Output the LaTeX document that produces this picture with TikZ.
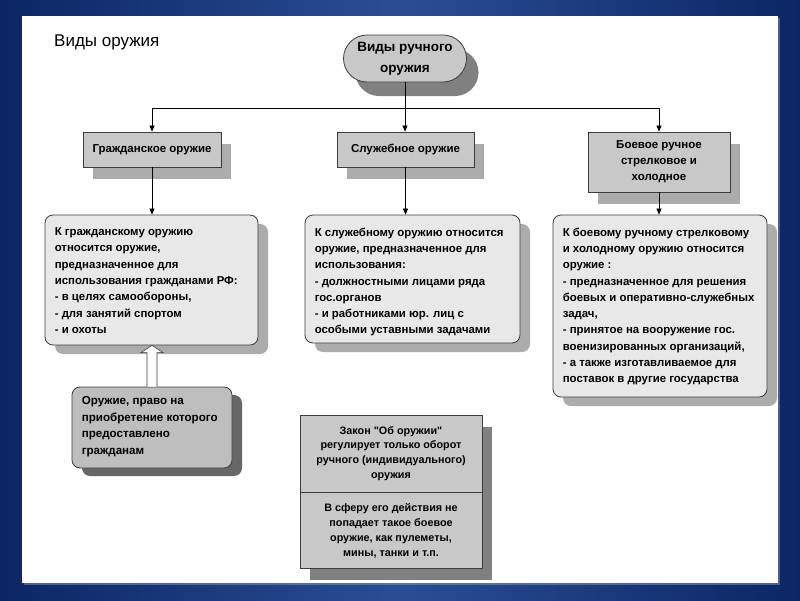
\documentclass[tikz,border=0pt]{standalone}
\usepackage{fontspec}
\setmainfont{Liberation Sans}
\newfontfamily\qfont{Liberation Sans}[Ligatures=TeXOff]
\usetikzlibrary{shadows,arrows.meta,calc,shapes.misc}
\definecolor{bgdark}{RGB}{12,38,100}
\definecolor{bglight}{RGB}{42,78,148}
\definecolor{boxgray}{RGB}{200,200,200}
\definecolor{lightbox}{RGB}{232,232,232}
\definecolor{midbox}{RGB}{190,190,190}
\definecolor{shlight}{RGB}{172,172,172}
\definecolor{shdark}{RGB}{128,128,128}
\definecolor{edge}{RGB}{60,60,60}
\newcommand{\sq}{{\qfont\bfseries"}}
\tikzset{
  topbox/.style={draw=edge, line width=0.8pt, fill=boxgray, inner sep=2pt,
    font=\fontsize{11.5}{16}\selectfont\bfseries, align=center,
    drop shadow={shadow xshift=10pt, shadow yshift=-12pt, fill=shlight, opacity=1}},
  detbox/.style={draw=edge, line width=0.8pt, fill=lightbox, rounded corners=8pt,
    drop shadow={shadow xshift=10pt, shadow yshift=-9pt, fill=shlight, opacity=1}},
  dettext/.style={inner sep=0pt, align=left, anchor=north west,
    font=\fontsize{11.4}{16.3}\selectfont\bfseries},
  arr/.style={draw=black, line width=0.6pt, -{Triangle[length=6pt,width=5pt]}},
  plain/.style={draw=black, line width=0.6pt},
}
\begin{document}
\begin{tikzpicture}[x=1pt,y=-1pt]
\useasboundingbox (0,0) rectangle (800,600);
% background
\shade[left color=bgdark, right color=bgdark, middle color=bglight] (0,0) rectangle (800,600);
\fill[black!40, opacity=0.5] (24,18) rectangle (780,585);
\fill[white] (22,16) rectangle (778,583);

% title
\node[anchor=west, inner sep=0pt, font=\fontsize{17}{20}\selectfont] (title) at (54,42) {Виды оружия};

% top pill
\node[rounded rectangle, draw=edge, line width=0.8pt, fill=boxgray,
  minimum width=123pt, minimum height=47pt, inner sep=0pt,
  font=\fontsize{13.5}{21}\selectfont\bfseries, align=center,
  drop shadow={shadow xshift=12pt, shadow yshift=-14pt, fill=shdark, opacity=1}]
  (pill) at (405,58.5) {\raisebox{-2pt}{Виды ручного}\\\raisebox{-2pt}{оружия}};

\coordinate (j) at (405,108);

% category boxes
\node[topbox, minimum width=138pt, minimum height=35pt] (gb) at (152,149.5) {Гражданское оружие};
\node[topbox, minimum width=137pt, minimum height=35pt] (sb) at (405.5,149.5) {Служебное оружие};
\node[topbox, minimum width=142pt, minimum height=60pt] (bb) at (659,162) {Боевое ручное\\стрелковое и\\холодное};

\draw[plain] (pill.south) -- (j);
\draw[arr] (j) -| (gb.north);
\draw[arr] (j) -- (j |- sb.north);
\draw[arr] (j) -| (bb.north);

% detail boxes
\node[detbox, minimum width=213pt, minimum height=130pt] (gd) at (151.5,280) {};
\node[detbox, minimum width=215pt, minimum height=128pt] (sd) at (412.5,279) {};
\node[detbox, minimum width=214pt, minimum height=182pt] (bd) at (660,306) {};

\draw[arr] (gb.south) -- (gb.south |- gd.north);
\draw[arr] (sb.south) -- (sb.south |- sd.north);
\draw[arr] (bb.south) -- (bb.south |- bd.north);

\node[dettext] (gt) at ($(gd.north west)+(10,13)$) {К гражданскому оружию\\относится оружие,\\предназначенное для\\использования гражданами РФ:\\- в целях самообороны,\\- для занятий спортом\\- и охоты};
\node[dettext] (st) at ($(sd.north west)+(10,13)$) {К служебному оружию относится\\оружие, предназначенное для\\использования:\\- должностными лицами ряда\\гос.органов\\- и работниками юр. лиц с\\особыми уставными задачами};
\node[dettext] (bt) at ($(bd.north west)+(10,13)$) {К боевому ручному стрелковому\\и холодному оружию относится\\оружие :\\- предназначенное для решения\\боевых и оперативно-служебных\\задач,\\- принятое на вооружение гос.\\военизированных организаций,\\- а также изготавливаемое для\\поставок в другие государства};

% bottom left box
\node[draw=edge, line width=0.8pt, fill=midbox, rounded corners=8pt,
  minimum width=160pt, minimum height=81pt,
  drop shadow={shadow xshift=10pt, shadow yshift=-8pt, fill=shdark!120, opacity=1}]
  (bl) at (152,427.5) {};
\node[dettext, font=\fontsize{11.6}{16.5}\selectfont\bfseries] (blt) at ($(bl.north west)+(10,10)$) {Оружие, право на\\приобретение которого\\предоставлено\\гражданам};

% hollow arrow
\draw[draw=edge, line width=0.6pt, fill=white]
  ($(bl.north)+(-5,0)$) -- ($(bl.north)+(-5,-34)$) -- ($(bl.north)+(-11,-34)$)
  -- ($(gd.south)+(0.5,0)$) -- ($(bl.north)+(11,-34)$) -- ($(bl.north)+(5,-34)$)
  -- ($(bl.north)+(5,0)$);

% bottom middle box
\fill[shdark] (310,427) rectangle (492,580);
\node[draw=edge, line width=0.8pt, fill=boxgray, minimum width=182pt, minimum height=77pt,
  align=center, font=\fontsize{10.8}{14.7}\selectfont\bfseries, inner sep=0pt]
  (lawa) at (391,453.5) {Закон \sq Об оружии\sq\\регулирует только оборот\\ручного (индивидуального)\\оружия};
\node[draw=edge, line width=0.8pt, fill=boxgray, minimum width=182pt, minimum height=76pt,
  align=center, font=\fontsize{10.8}{14.7}\selectfont\bfseries, inner sep=0pt, anchor=north]
  (lawb) at (lawa.south) {В сферу его действия не\\попадает такое боевое\\оружие, как пулеметы,\\мины, танки и т.п.};
\end{tikzpicture}
\end{document}
